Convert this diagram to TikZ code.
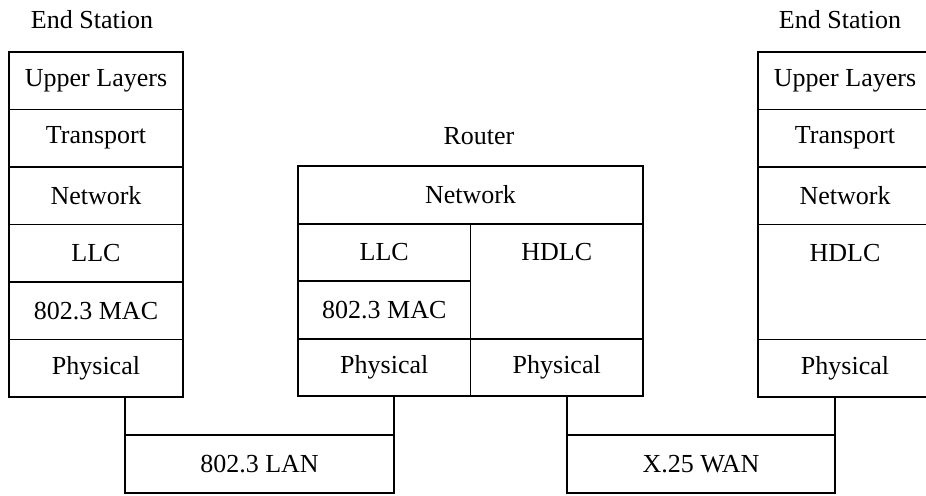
\documentclass[tikz,border=0pt]{standalone}
\usepackage{fontspec}
\setmainfont{Liberation Serif}
\usetikzlibrary{positioning}
\begin{document}
\begin{tikzpicture}[x=0.02cm, y=-0.02cm, line width=1pt,
    every node/.style={font=\fontsize{14.8}{17}\selectfont},
    layer/.style={draw, minimum width=3.48cm, minimum height=1.15cm, inner sep=0pt, outer sep=0pt},
    half/.style={layer, minimum width=3.45cm},
    link/.style={draw, minimum width=5.38cm, minimum height=1.16cm, inner sep=0pt, outer sep=0pt}]
    \useasboundingbox (0,0) rectangle (926,495);
    \clip (0,0) rectangle (926,495);

    % Draw the left end station
    \node (ltitle) at (92,20) {End Station};
    \node[layer] (lup) at (96,80.75) {Upper Layers};
    \node[layer, below=0pt of lup] (ltr) {Transport};
    \node[layer, below=0pt of ltr] (lnet) {Network};
    \node[layer, below=0pt of lnet] (lllc) {LLC};
    \node[layer, below=0pt of lllc] (lmac) {802.3 MAC};
    \node[layer, below=0pt of lmac] (lphy) {Physical};

    % Draw the router
    \node (rtitle) at (479,136) {Router};
    \node[layer, minimum width=6.9cm] (rnet) at (470.5,195) {Network};
    \node[half, anchor=north west] (rllc) at (rnet.south west) {LLC};
    \node[half, below=0pt of rllc] (rmac) {802.3 MAC};
    \node[half, below=0pt of rmac] (rphyl) {Physical};
    \node[half, minimum height=2.3cm, anchor=north east,
          label={[anchor=center, yshift=-0.575cm]north:HDLC}] (rhdlc) at (rnet.south east) {};
    \node[half, below=0pt of rhdlc] (rphyr) {Physical};

    % Draw the right end station
    \node (stitle) at (840,20) {End Station};
    \node[layer] (sup) at (845,80.75) {Upper Layers};
    \node[layer, below=0pt of sup] (str) {Transport};
    \node[layer, below=0pt of str] (snet) {Network};
    \node[layer, minimum height=2.3cm, below=0pt of snet,
          label={[anchor=center, yshift=-0.575cm]north:HDLC}] (shdlc) {};
    \node[layer, below=0pt of shdlc] (sphy) {Physical};

    % Draw the two networks and hook them up
    \node[link] (lan) at (259.5,464) {802.3 LAN};
    \node[link, minimum width=5.36cm] (wan) at (701,464) {X.25 WAN};
    \draw (lphy.south -| lan.west) -- (lan.north west);
    \draw (rphyl.south -| lan.east) -- (lan.north east);
    \draw (rphyr.south -| wan.west) -- (wan.north west);
    \draw (sphy.south -| wan.east) -- (wan.north east);

\end{tikzpicture}
\end{document}
